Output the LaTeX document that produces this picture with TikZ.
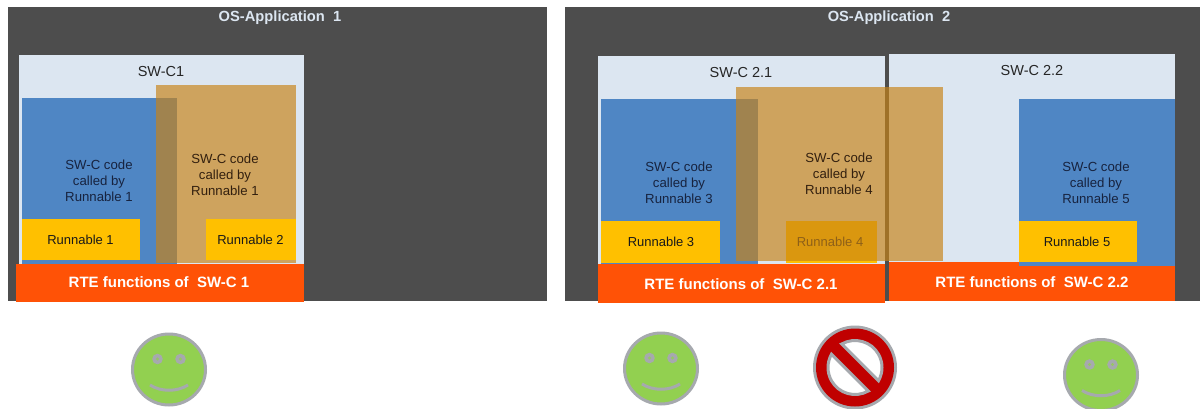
\documentclass[tikz,border=0pt]{standalone}
\usepackage{fontspec}
\setmainfont{Liberation Sans}
\definecolor{darkbg}{HTML}{4D4D4D}
\definecolor{swc}{HTML}{DCE6F1}
\definecolor{codeblue}{HTML}{4F86C4}
\definecolor{codeorange}{HTML}{C88317}
\definecolor{runnable}{HTML}{FFC000}
\definecolor{rte}{HTML}{FF5206}
\definecolor{smile}{HTML}{92D050}
\definecolor{rim}{HTML}{A6A9AE}
\definecolor{stopred}{HTML}{C00000}
\definecolor{inkblue}{HTML}{17233F}
\definecolor{inkorange}{HTML}{33200F}
\tikzset{
  x=1pt,y=-1pt,
  darkpane/.style={fill=darkbg},
  swcbox/.style={fill=swc},
  codebox/.style={fill=codeblue},
  badcode/.style={fill=codeorange,fill opacity=0.67},
  runbox/.style={fill=runnable},
  rtebox/.style={fill=rte},
  apptitle/.style={text=swc,font=\fontsize{14.7}{16}\selectfont\bfseries,inner sep=0},
  swctitle/.style={text=black!85,font=\fontsize{14.5}{17}\selectfont,inner sep=0},
  codetext/.style={text=inkblue,align=center,font=\fontsize{13.2}{16}\selectfont,inner sep=0},
  codetextb/.style={codetext,text=inkorange},
  runtext/.style={text=black!90,font=\fontsize{13}{16}\selectfont,inner sep=0},
  rtetext/.style={text=white,font=\fontsize{15}{17}\selectfont\bfseries,inner sep=0},
  smileface/.pic={
    \draw[rim,line width=3,fill=smile] (0,0) ellipse[x radius=36.5,y radius=35.5];
    \fill[rim] (-11.5,-10.5) circle[radius=5.3];
    \fill[rim] (11.5,-10.5) circle[radius=5.3];
    \fill[smile!80!rim] (-11.5,-10.5) circle[radius=1.6];
    \fill[smile!80!rim] (11.5,-10.5) circle[radius=1.6];
    \draw[rim,line width=3] (-19,15.5) .. controls (-8,22.5) and (8,22.5) .. (19,15.5);
  },
}
\begin{document}
\begin{tikzpicture}
\useasboundingbox (0,0) rectangle (1200,408);
\clip (0,0) rectangle (1200,408);
\fill[white] (0,0) rectangle (1200,408);
% panes
\path[darkpane] (8,7) rectangle (547,301);
\path[darkpane] (565,7) rectangle (1200,301);
\node[apptitle] (app1) at (280,18) {OS-Application~ 1};
\node[apptitle] (app2) at (889,18) {OS-Application~ 2};
% SW-C1
\path[swcbox] (18.5,55) rectangle (304,264);
\node[swctitle] (t1) at (161,72) {SW-C1};
\path[codebox] (21.5,98) rectangle (177,264);
\path[runbox] (21.5,219) rectangle (139.5,260);
\node[runtext] (r1) at (80.5,240) {Runnable 1};
\node[codetext] (c1) at (99,181) {SW-C code\\called by\\Runnable 1};
\path[badcode] (156,85) rectangle (296,263);
\path[runbox] (206,219) rectangle (296,260);
\node[runtext] (r2) at (250.5,240) {Runnable 2};
\node[codetextb] (c2) at (225,175) {SW-C code\\called by\\Runnable 1};
\path[rtebox] (16,263.5) rectangle (304,302);
\node[rtetext] (f1) at (159,282) {RTE functions of~ SW-C 1};
% SW-C 2.1
\path[swcbox] (598,56) rectangle (885,264);
\node[swctitle] (t21) at (741,73) {SW-C 2.1};
\path[codebox] (601,99) rectangle (758,264);
\path[runbox] (601,221) rectangle (720,262.5);
\node[runtext] (r3) at (661,242) {Runnable 3};
\node[codetext] (c3) at (679,183) {SW-C code\\called by\\Runnable 3};
% SW-C 2.2
\path[rtebox] (889,262) rectangle (1175,301);
\path[swcbox] (889,54) rectangle (1175,262);
\node[swctitle] (t22) at (1032,71) {SW-C 2.2};
\path[codebox] (1019,99) rectangle (1175,266);
\path[runbox] (1019,221) rectangle (1137,262);
\node[runtext] (r5) at (1077,242) {Runnable 5};
\node[codetext] (c5) at (1096,183) {SW-C code\\called by\\Runnable 5};
\node[rtetext] (f22) at (1032,282) {RTE functions of~ SW-C 2.2};
% Runnable 4 under the orange area
\path[runbox] (786,221) rectangle (877,262.5);
\node[runtext] (r4) at (830,242) {Runnable 4};
\path[badcode] (736,87) rectangle (943,261);
\node[codetextb] (c4) at (839,173.5) {SW-C code\\called by\\Runnable 4};
\path[rtebox] (598,264) rectangle (885,303);
\node[rtetext] (f21) at (741,284) {RTE functions of~ SW-C 2.1};
% faces
\pic at (169,369.5) {smileface};
\pic at (661,368.5) {smileface};
\pic at (1101,375) {smileface};
% stop sign
\begin{scope}[shift={(855,367.5)}]
\fill[rim] (0,0) circle[radius=42];
\fill[stopred] (0,0) circle[radius=39];
\draw[rim,line width=3,fill=white] (-119.4:27) arc[start angle=-119.4,end angle=29.4,radius=27] -- cycle;
\draw[rim,line width=3,fill=white] (60.6:27) arc[start angle=60.6,end angle=209.4,radius=27] -- cycle;
\end{scope}
\end{tikzpicture}
\end{document}
